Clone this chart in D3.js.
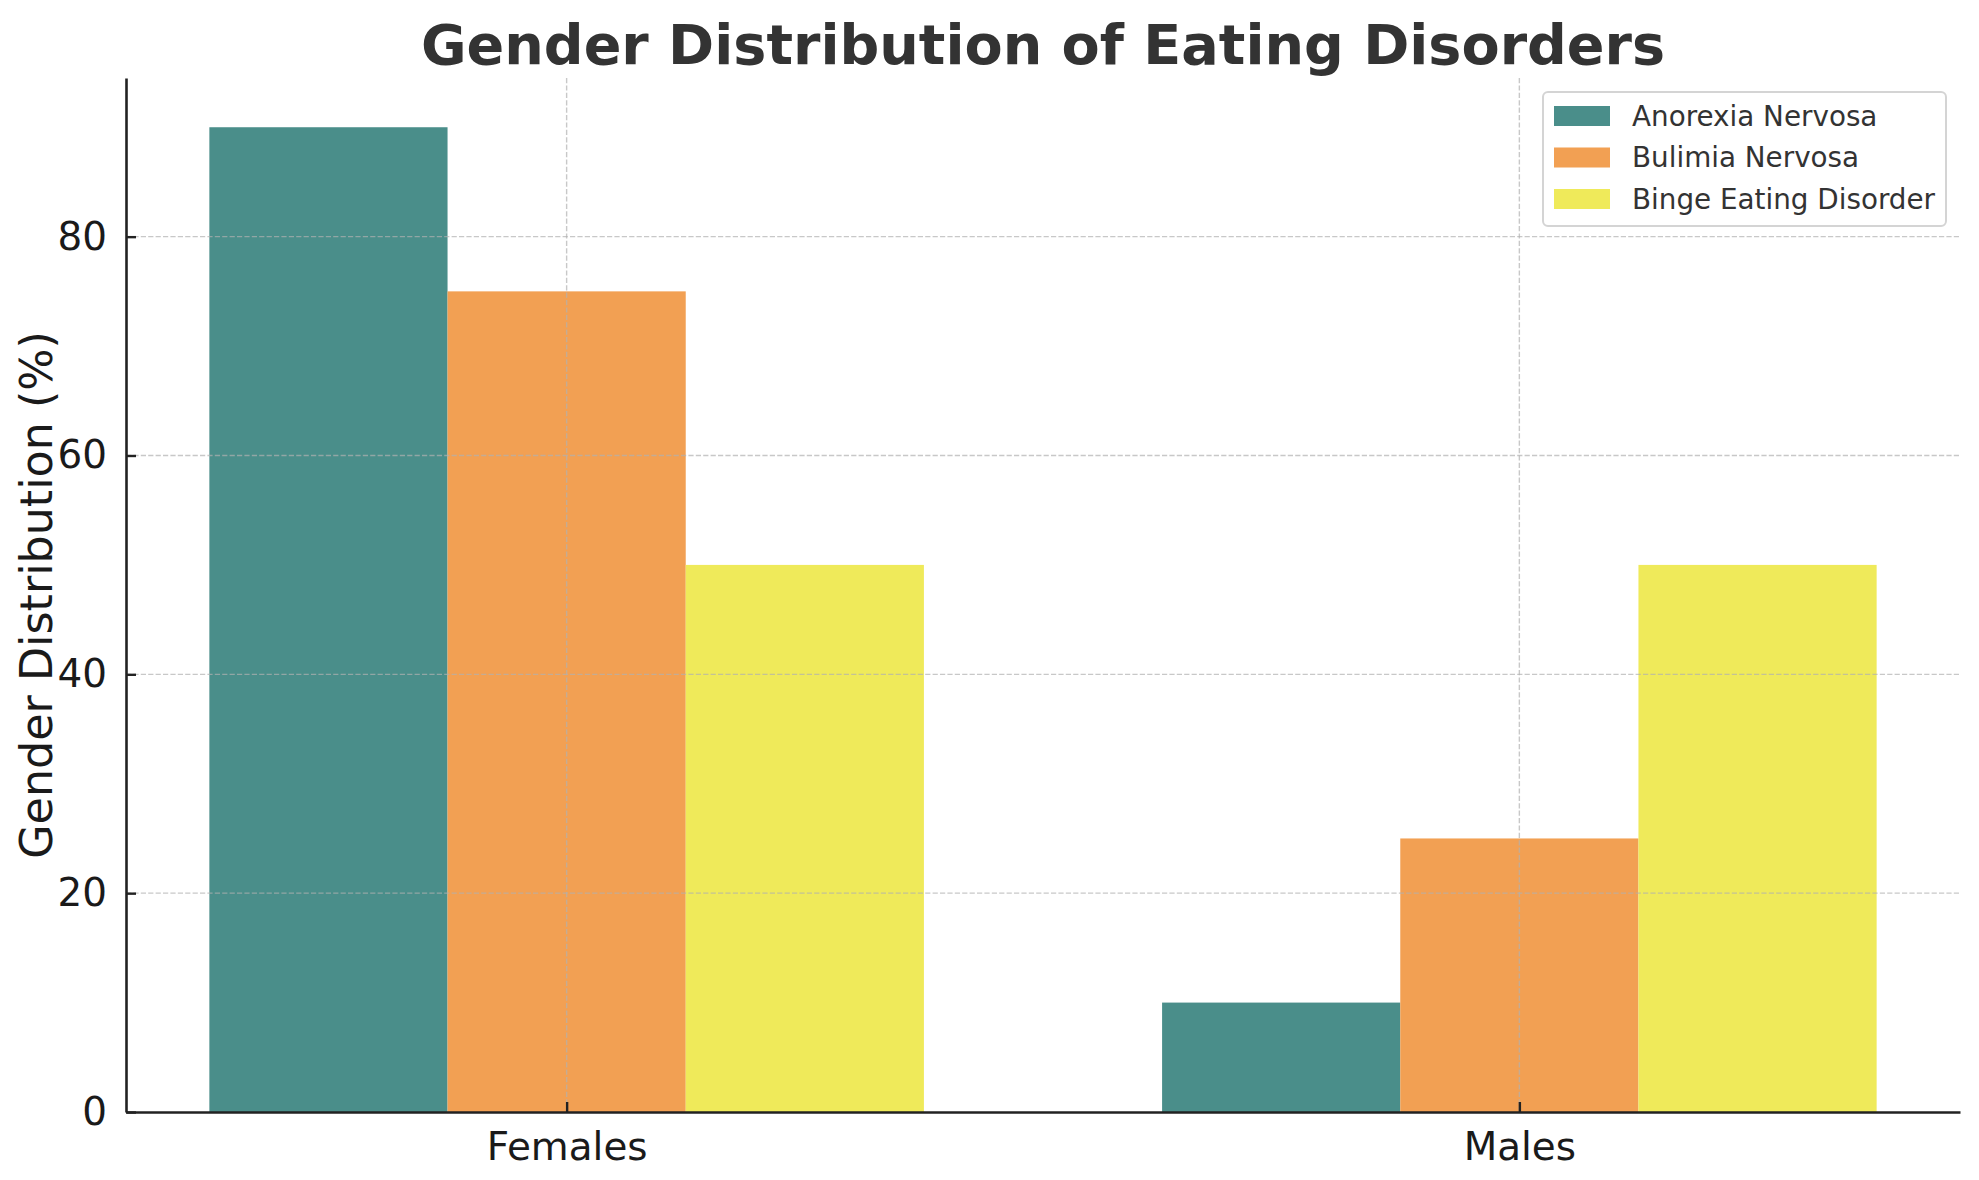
<!DOCTYPE html>
<html>
<head>
<meta charset="utf-8">
<script src="https://cdn.jsdelivr.net/npm/d3@7"></script>
<style>
html,body{margin:0;padding:0;background:#fff;}
svg{display:block;font-family:"DejaVu Sans",sans-serif;}
</style>
</head>
<body>
<svg id="chart" width="1979" height="1180"></svg>
<script>
const categories = ["Females", "Males"];
const seriesNames = ["Anorexia Nervosa", "Bulimia Nervosa", "Binge Eating Disorder"];
const anorexia = [90, 10];
const bulimia = [75, 25];
const binge = [50, 50];
const yTicks = [0, 20, 40, 60, 80];
const colors = ["#4a8e8a", "#f2a053", "#efea5a"];

(function () {
const seriesValues = [anorexia, bulimia, binge];
const svg = d3.select("#chart");
const pLeft = 126, pRight = 1960, pTop = 78, pBottom = 1112;
const barW = 0.25;

const x = d3.scaleLinear().domain([-0.4625, 1.4625]).range([pLeft, pRight]);
const y = d3.scaleLinear().domain([0, 94.5]).range([pBottom, pTop]);

// bars
seriesValues.forEach((vals, si) => {
  svg.append("g").selectAll("rect").data(vals).join("rect")
    .attr("x", (d, i) => x(i + (si - 1) * barW - barW / 2))
    .attr("width", x(barW) - x(0))
    .attr("y", d => y(d))
    .attr("height", d => y(0) - y(d))
    .attr("fill", colors[si]);
});

// grid
const grid = svg.append("g");
grid.selectAll("line.h").data(yTicks.filter(t => t > 0)).join("line")
  .attr("x1", pLeft).attr("x2", pRight)
  .attr("y1", d => y(d)).attr("y2", d => y(d))
  .attr("stroke", "#b0b0b0").attr("stroke-opacity", 0.7)
  .attr("stroke-width", 1.4).attr("stroke-dasharray", "5.2,2.2");
grid.selectAll("line.v").data(categories).join("line")
  .attr("x1", (d, i) => x(i)).attr("x2", (d, i) => x(i))
  .attr("y1", pTop).attr("y2", pBottom)
  .attr("stroke", "#b0b0b0").attr("stroke-opacity", 0.7)
  .attr("stroke-width", 1.4).attr("stroke-dasharray", "5.2,2.2");

// axes
const yAxis = d3.axisLeft(y).tickValues(yTicks).tickSizeInner(-10).tickSizeOuter(0).tickPadding(19);
const gy = svg.append("g").attr("transform", `translate(${pLeft},0)`).call(yAxis);
gy.select(".domain").attr("stroke", "#222").attr("stroke-width", 2.6);
gy.selectAll(".tick line").attr("stroke", "#222").attr("stroke-width", 2.4);
gy.selectAll(".tick text").attr("font-size", 38.9).attr("fill", "#1a1a1a")
  .attr("font-family", "DejaVu Sans");

const xAxis = d3.axisBottom(x).tickValues([0, 1]).tickFormat((d) => categories[d])
  .tickSizeInner(-10).tickSizeOuter(0).tickPadding(20);
const gx = svg.append("g").attr("transform", `translate(0,${pBottom})`).call(xAxis);
gx.select(".domain").attr("stroke", "#222").attr("stroke-width", 2.6);
gx.selectAll(".tick line").attr("stroke", "#222").attr("stroke-width", 2.4);
gx.selectAll(".tick text").attr("font-size", 38.9).attr("fill", "#1a1a1a")
  .attr("font-family", "DejaVu Sans");

// y label
svg.append("text")
  .attr("transform", `translate(36,${(pTop + pBottom) / 2}) rotate(-90)`)
  .attr("text-anchor", "middle").attr("dominant-baseline", "central")
  .attr("font-size", 44.4).attr("fill", "#1a1a1a")
  .text("Gender Distribution (%)");

// title
svg.append("text")
  .attr("x", (pLeft + pRight) / 2).attr("y", 44)
  .attr("text-anchor", "middle").attr("dominant-baseline", "central")
  .attr("font-size", 55.6).attr("font-weight", "bold").attr("fill", "#333333")
  .text("Gender Distribution of Eating Disorders");

// legend
const lg = svg.append("g");
lg.append("rect").attr("x", 1543).attr("y", 92).attr("width", 403).attr("height", 134)
  .attr("rx", 5).attr("fill", "#fff").attr("fill-opacity", 0.8)
  .attr("stroke", "#d4d4d4").attr("stroke-width", 2);
seriesNames.forEach((name, i) => {
  const cy = 116 + i * 41.5;
  lg.append("rect").attr("x", 1554).attr("y", cy - 10).attr("width", 56).attr("height", 20)
    .attr("fill", colors[i]);
  lg.append("text").attr("x", 1632).attr("y", cy).attr("dominant-baseline", "central")
    .attr("font-size", 27.8).attr("fill", "#333333").text(name);
});
})();
</script>
</body>
</html>
